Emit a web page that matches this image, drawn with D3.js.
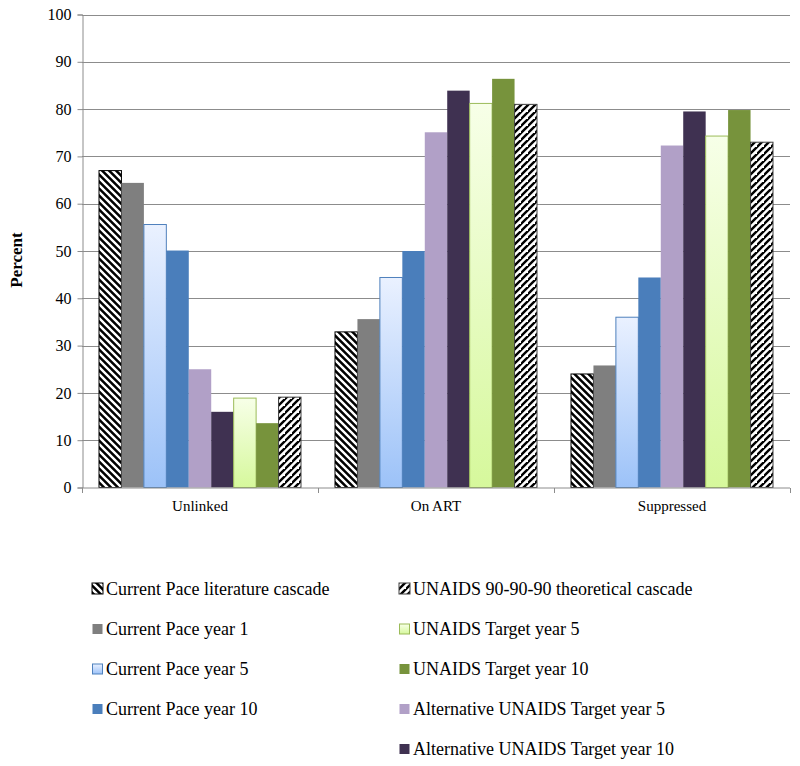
<!DOCTYPE html>
<html>
<head>
<meta charset="utf-8">
<script src="https://cdn.jsdelivr.net/npm/d3@7"></script>
<style>
  html, body { margin: 0; padding: 0; background: #fff; }
  svg { display: block; }
  svg text { font-family: "Liberation Serif", "Times New Roman", Tinos, "DejaVu Serif", serif !important; }
</style>
</head>
<body>
<svg id="chart" width="800" height="766"></svg>
<script>
// ---- data ----
const categories = ["Unlinked", "On ART", "Suppressed"];
const seriesNames = [
  "Current Pace literature cascade",
  "Current Pace year 1",
  "Current Pace year 5",
  "Current Pace year 10",
  "Alternative UNAIDS Target year 5",
  "Alternative UNAIDS Target year 10",
  "UNAIDS Target year 5",
  "UNAIDS Target year 10",
  "UNAIDS 90-90-90 theoretical cascade"
];
const litCascade   = [67.0, 32.9, 24.0];
const paceY1       = [64.4, 35.6, 25.8];
const paceY5       = [55.6, 44.4, 36.0];
const paceY10      = [50.1, 50.0, 44.4];
const altY5        = [25.0, 75.1, 72.3];
const altY10       = [16.0, 83.9, 79.5];
const unaidsY5     = [18.9, 81.2, 74.3];
const unaidsY10    = [13.6, 86.4, 79.8];
const theoCascade  = [19.1, 81.0, 73.0];
const seriesValues = [litCascade, paceY1, paceY5, paceY10, altY5, altY10, unaidsY5, unaidsY10, theoCascade];
const yTicks = [0, 10, 20, 30, 40, 50, 60, 70, 80, 90, 100];
const yLabel = "Percent";
// legend order (two columns)
const legendLeft = [0, 1, 2, 3];
const legendRight = [8, 6, 7, 4, 5];

// ---- styles ----
const fills = ["url(#hatchBlack)", "#7f7f7f", "url(#gradBlue)", "#4a7ebb", "#b1a0c7", "#3f3151", "url(#gradGreen)", "#77933c", "url(#hatchWhite)"];
const strokes = ["#000", "none", "#4f81bd", "none", "none", "none", "#9bbb59", "none", "#404040"];
const hatched = [true, false, false, false, false, false, false, false, true];

const svg = d3.select("#chart");
const defs = svg.append("defs");

function hatch(id, bg, fg, dir) {
  const p = defs.append("pattern").attr("id", id).attr("patternUnits", "userSpaceOnUse")
    .attr("width", 7).attr("height", 7);
  p.append("rect").attr("width", 7).attr("height", 7).attr("fill", bg);
  const d = dir === "back"
    ? "M-1,-1 L8,8 M-4.5,2.5 L1.5,8.5 M5.5,-1.5 L8.5,1.5 M2.5,-4.5 L8.5,1.5"
    : "M-1,8 L8,-1 M-4.5,4.5 L2.5,-2.5 M4.5,11.5 L11.5,4.5";
  p.append("path").attr("d", d).attr("stroke", fg).attr("stroke-width", 2.4);
}
hatch("hatchBlack", "#000", "#fff", "back");
hatch("hatchWhite", "#fff", "#000", "fwd");

function grad(id, c0, c1) {
  const g = defs.append("linearGradient").attr("id", id).attr("x1", 0).attr("y1", 0).attr("x2", 0).attr("y2", 1);
  g.append("stop").attr("offset", "0%").attr("stop-color", c0);
  g.append("stop").attr("offset", "100%").attr("stop-color", c1);
}
grad("gradBlue", "#eaf1ff", "#9cc2f8");
grad("gradGreen", "#f7ffe8", "#d6f89c");

// ---- layout ----
const plotLeft = 82, plotRight = 790, plotTop = 14.5, plotBottom = 487.5;

const x0 = d3.scaleBand().domain(categories).range([plotLeft, plotRight]).paddingInner(0).paddingOuter(0);
const groupPad = 17;
const x1 = d3.scaleBand().domain(d3.range(seriesNames.length)).range([groupPad, x0.bandwidth() - groupPad]).padding(0);
const y = d3.scaleLinear().domain([0, 100]).range([plotBottom, plotTop]);

// gridlines
svg.append("g").selectAll("line").data(yTicks.filter(t => t > 0)).join("line")
  .attr("x1", plotLeft).attr("x2", plotRight)
  .attr("y1", d => Math.round(y(d)) + 0.5).attr("y2", d => Math.round(y(d)) + 0.5)
  .attr("stroke", "#8c8c8c").attr("stroke-width", 1);

// y axis
const yAxis = svg.append("g").attr("transform", `translate(${plotLeft + 0.5},0)`)
  .call(d3.axisLeft(y).tickValues(yTicks).tickSize(5).tickPadding(6).tickFormat(d3.format("d")));
yAxis.select(".domain").attr("stroke", "#8c8c8c");
yAxis.selectAll(".tick line").attr("stroke", "#8c8c8c");
yAxis.selectAll("text").attr("font-size", 16).attr("fill", "#000");

// bars
const groups = svg.append("g").selectAll("g").data(categories).join("g")
  .attr("transform", d => `translate(${x0(d)},0)`);
groups.selectAll("rect").data((c, ci) => seriesValues.map((vals, si) => ({ si, v: vals[ci] }))).join("rect")
  .attr("x", d => x1(d.si))
  .attr("width", x1.bandwidth())
  .attr("y", d => y(d.v))
  .attr("height", d => y(0) - y(d.v))
  .attr("fill", d => fills[d.si])
  .attr("stroke", d => strokes[d.si])
  .attr("stroke-width", 1);

// x axis
const xAxisG = svg.append("g").attr("transform", `translate(0,${plotBottom + 0.5})`);
xAxisG.append("line").attr("x1", plotLeft).attr("x2", plotRight).attr("stroke", "#8c8c8c");
xAxisG.selectAll("line.tk").data(d3.range(categories.length + 1)).join("line").attr("class", "tk")
  .attr("x1", i => plotLeft + i * x0.bandwidth() + 0.5).attr("x2", i => plotLeft + i * x0.bandwidth() + 0.5)
  .attr("y1", 0).attr("y2", 5).attr("stroke", "#8c8c8c");
xAxisG.selectAll("text").data(categories).join("text")
  .attr("x", d => x0(d) + x0.bandwidth() / 2).attr("y", 23)
  .attr("text-anchor", "middle").attr("font-size", 15).text(d => d);

// y label
svg.append("text").attr("transform", "translate(22,260) rotate(-90)")
  .attr("text-anchor", "middle").attr("font-size", 17).attr("font-weight", "bold").text(yLabel);

// legend
function legendCol(items, xIcon, y0) {
  const g = svg.append("g");
  const it = g.selectAll("g").data(items).join("g")
    .attr("transform", (d, i) => `translate(${xIcon},${y0 + i * 40})`);
  it.append("rect")
    .attr("x", d => hatched[d] ? 0 : 0.5)
    .attr("y", d => hatched[d] ? -6 : -5)
    .attr("width", d => hatched[d] ? 11 : 10)
    .attr("height", d => hatched[d] ? 11 : 10)
    .attr("fill", d => fills[d])
    .attr("stroke", d => strokes[d] === "none" ? "none" : strokes[d])
    .attr("stroke-width", 1);
  it.append("text").attr("x", 14).attr("y", 5.5).attr("font-size", 18).text(d => seriesNames[d]);
}
legendCol(legendLeft, 92, 589);
legendCol(legendRight, 399, 589);
</script>
</body>
</html>
